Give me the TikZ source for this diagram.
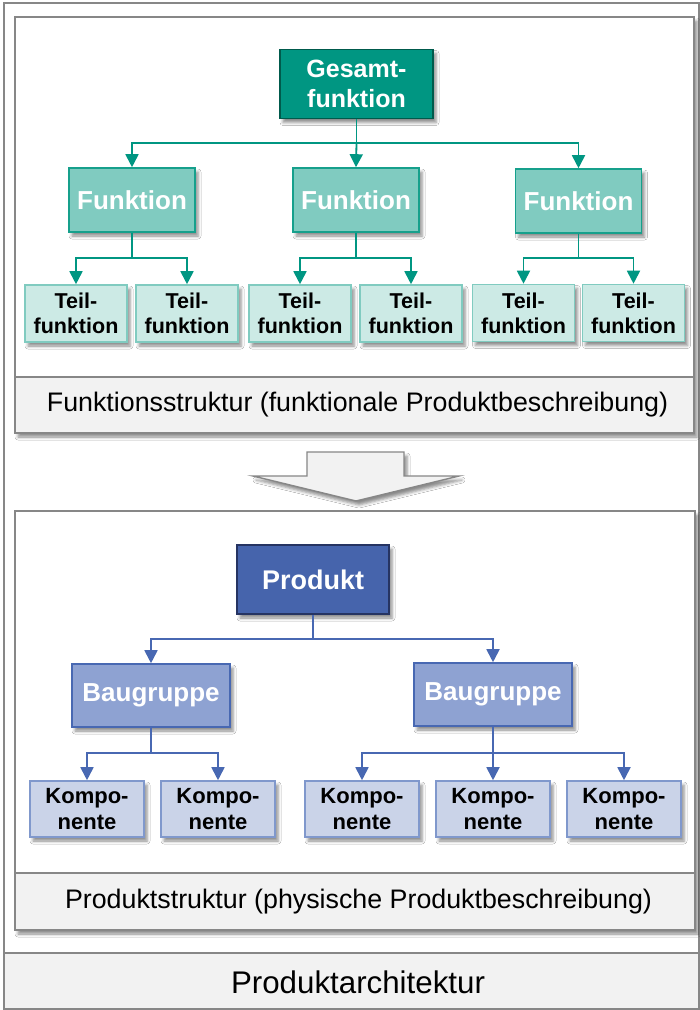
\documentclass[tikz,border=0pt]{standalone}
\usepackage{fontspec}
\setmainfont{Liberation Sans}
\usetikzlibrary{arrows.meta,shadows.blur}
\definecolor{framegray}{RGB}{135,135,135}
\definecolor{bandgray}{RGB}{242,242,242}
\definecolor{tealdark}{RGB}{0,150,130}
\definecolor{tealedge}{RGB}{0,90,76}
\definecolor{tealmid}{RGB}{128,203,192}
\definecolor{tealmidedge}{RGB}{22,160,140}
\definecolor{teallight}{RGB}{204,234,229}
\definecolor{teallightedge}{RGB}{128,203,192}
\definecolor{bluedark}{RGB}{70,100,172}
\definecolor{blueedge}{RGB}{38,52,98}
\definecolor{bluemid}{RGB}{142,162,210}
\definecolor{bluemidedge}{RGB}{72,104,178}
\definecolor{bluelight}{RGB}{202,211,232}
\definecolor{bluelightedge}{RGB}{128,152,204}
\begin{document}
\begin{tikzpicture}[x=1pt,y=-1pt,
  shade box/.style={blur shadow={shadow xshift=3pt,shadow yshift=-4pt,shadow blur radius=3pt,shadow opacity=45}},
  box/.style={shade box,draw,line width=1.6pt,inner sep=0pt,align=center,font=\bfseries},
  top/.style={box,fill=tealdark,draw=tealedge,text=white,minimum width=153pt,minimum height=69pt,
    font=\fontsize{25}{30}\selectfont\bfseries},
  fun/.style={box,fill=tealmid,draw=tealmidedge,text=white,minimum width=126pt,minimum height=64pt,
    font=\fontsize{26}{30}\selectfont\bfseries},
  sub/.style={box,fill=teallight,draw=teallightedge,text=black,minimum width=102pt,minimum height=57pt,
    font=\fontsize{21.5}{25}\selectfont\bfseries},
  prod/.style={box,fill=bluedark,draw=blueedge,text=white,minimum width=152pt,minimum height=69pt,
    font=\fontsize{27}{30}\selectfont\bfseries},
  grp/.style={box,fill=bluemid,draw=bluemidedge,text=white,minimum width=158pt,minimum height=63pt,
    font=\fontsize{26}{30}\selectfont\bfseries},
  comp/.style={box,fill=bluelight,draw=bluelightedge,text=black,minimum width=114pt,minimum height=56pt,
    font=\fontsize{22}{26}\selectfont\bfseries},
  tealarr/.style={draw=tealdark,line width=1.8pt,-{Triangle[width=13pt,length=13pt]}},
  bluearr/.style={draw=bluemidedge,line width=1.8pt,-{Triangle[width=13pt,length=13pt]}},
  panel/.style={draw=framegray,line width=2pt,fill=white},
  band/.style={draw=framegray,line width=2pt,fill=bandgray},
  caption/.style={font=\fontsize{26.8}{30}\selectfont}
]
\useasboundingbox (0,0) rectangle (700,1010);

% outer frame with the title band
\draw[framegray,line width=1.6pt,fill=white] (4,3) rectangle (699,1009);
\draw[band,line width=1.6pt] (4,953) rectangle (699,1009);
\node[font=\fontsize{31.3}{34}\selectfont] (arch) at (358,982) {Produktarchitektur};

% upper panel: function structure
\draw[panel,shade box] (15,17) rectangle (694,433);
\draw[band] (15,377) rectangle (694,433);
\node[caption] (fcap) at (357.5,405) {Funktionsstruktur (funktionale Produktbeschreibung)};

\node[top] (g) at (356.5,84) {Gesamt-\\funktion};
\node[fun] (f1) at (132,200) {Funktion};
\node[fun] (f2) at (356,200) {Funktion};
\node[fun] (f3) at (578.5,201) {Funktion};
\node[sub] (t1) at (76,313.5) {Teil-\\funktion};
\node[sub] (t2) at (187,313.5) {Teil-\\funktion};
\node[sub] (t3) at (300,313.5) {Teil-\\funktion};
\node[sub] (t4) at (411,313.5) {Teil-\\funktion};
\node[sub] (t5) at (523.5,313) {Teil-\\funktion};
\node[sub] (t6) at (633.5,313) {Teil-\\funktion};

\coordinate (gb) at (356.5,143);
\draw[tealarr] (g.south) -- (gb) -| (f1.north);
\draw[tealarr] (gb) -| (f3.north);
\draw[tealarr] (gb) -- (f2.north);
\coordinate (b1) at (132,258);
\coordinate (b2) at (356,258);
\coordinate (b3) at (578.5,258);
\draw[tealarr] (f1.south) -- (b1) -| (t1.north);
\draw[tealarr] (b1) -| (t2.north);
\draw[tealarr] (f2.south) -- (b2) -| (t3.north);
\draw[tealarr] (b2) -| (t4.north);
\draw[tealarr] (f3.south) -- (b3) -| (t5.north);
\draw[tealarr] (b3) -| (t6.north);

% transition arrow
\draw[draw=framegray,line width=1.4pt,fill=bandgray,shade box]
  (307,452) -- (404,452) -- (404,476) -- (459,476) -- (356,501) -- (253,476) -- (307,476) -- cycle;

% lower panel: product structure
\draw[panel,shade box] (15,511) rectangle (695,930);
\draw[band] (15,873) rectangle (695,930);
\node[caption] (pcap) at (358.5,902) {Produktstruktur (physische Produktbeschreibung)};

\node[prod] (p) at (313,579.5) {Produkt};
\node[grp] (a1) at (151,695.5) {Baugruppe};
\node[grp] (a2) at (493,694.5) {Baugruppe};
\node[comp] (k1) at (87,809) {Kompo-\\nente};
\node[comp] (k2) at (218,809) {Kompo-\\nente};
\node[comp] (k3) at (362,809) {Kompo-\\nente};
\node[comp] (k4) at (493,809) {Kompo-\\nente};
\node[comp] (k5) at (624,809) {Kompo-\\nente};

\coordinate (pb) at (313,639);
\draw[bluearr] (p.south) -- (pb) -| (a1.north);
\draw[bluearr] (pb) -| (a2.north);
\coordinate (c1) at (151,753);
\coordinate (c2) at (493,753);
\draw[bluearr] (a1.south) -- (c1) -| (k1.north);
\draw[bluearr] (c1) -| (k2.north);
\draw[bluearr] (a2.south) -- (c2) -| (k3.north);
\draw[bluearr] (c2) -| (k5.north);
\draw[bluearr] (c2) -- (k4.north);
\end{tikzpicture}
\end{document}
